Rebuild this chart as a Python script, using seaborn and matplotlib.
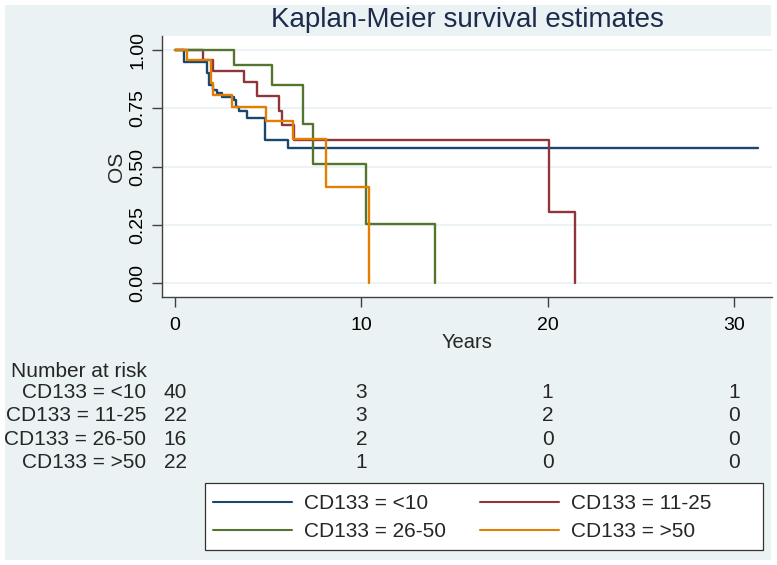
import matplotlib
matplotlib.use("Agg")
import matplotlib.pyplot as plt
from matplotlib.patches import Rectangle
from matplotlib.ticker import FormatStrFormatter
from matplotlib.transforms import blended_transform_factory
import seaborn as sns
import pandas as pd

# groups and colours (Stata s2color)
groups = ["CD133 = <10", "CD133 = 11-25", "CD133 = 26-50", "CD133 = >50"]
colors = ["#1a476f", "#90353b", "#55752f", "#e37e00"]

# Kaplan-Meier step points (time in years, survival)
time_lt10 = [0, 0.48, 1.73, 1.80, 2.05, 2.25, 2.50, 3.15, 3.30, 3.45, 3.84, 4.83, 6.08, 31.3]
surv_lt10 = [1.0, 0.95, 0.90, 0.852, 0.828, 0.814, 0.80, 0.787, 0.757, 0.738, 0.708, 0.616, 0.579, 0.579]

time_11_25 = [0, 1.48, 2.02, 3.72, 4.38, 5.58, 5.72, 6.38, 20.05, 21.48]
surv_11_25 = [1.0, 0.955, 0.909, 0.861, 0.803, 0.738, 0.678, 0.614, 0.307, 0.0]

time_26_50 = [0, 3.18, 5.18, 6.88, 7.42, 10.24, 13.98]
surv_26_50 = [1.0, 0.9375, 0.852, 0.682, 0.512, 0.256, 0.0]

time_gt50 = [0, 0.63, 1.93, 2.05, 3.04, 4.90, 6.33, 8.08, 10.40]
surv_gt50 = [1.0, 0.955, 0.86, 0.806, 0.757, 0.697, 0.617, 0.413, 0.0]

# number at risk table
risk_times = [0, 10, 20, 30]
risk_lt10 = [40, 3, 1, 1]
risk_11_25 = [22, 3, 2, 0]
risk_26_50 = [16, 2, 0, 0]
risk_gt50 = [22, 1, 0, 0]

BG = "#eaf2f3"
W, H = 777, 565

times = [time_lt10, time_11_25, time_26_50, time_gt50]
survs = [surv_lt10, surv_11_25, surv_26_50, surv_gt50]
risks = [risk_lt10, risk_11_25, risk_26_50, risk_gt50]

frames = []
for name, t, s in zip(groups, times, survs):
    frames.append(pd.DataFrame({"Years": t, "OS": s, "group": name}))
df = pd.concat(frames, ignore_index=True)

sns.set_style("ticks")
plt.rcParams["font.family"] = ["Liberation Sans", "DejaVu Sans"]

fig = plt.figure(figsize=(W / 100, H / 100), dpi=100)
fig.add_artist(Rectangle((5 / W, 1 - 560 / H), 766 / W, 555 / H, transform=fig.transFigure,
                         facecolor=BG, edgecolor="none", zorder=-10))

ax = fig.add_axes([162 / W, 1 - 297 / H, 610 / W, 261 / H])
ax.set_facecolor("white")

sns.lineplot(data=df, x="Years", y="OS", hue="group", hue_order=groups, palette=colors,
             drawstyle="steps-post", estimator=None, sort=False, linewidth=1.7, ax=ax)

ax.set_xlim(-0.698, 32.04)
ax.set_ylim(-0.0587, 1.060)
ax.set_xticks(risk_times)
ax.set_yticks([0, 0.25, 0.5, 0.75, 1.0])
ax.yaxis.set_major_formatter(FormatStrFormatter("%.2f"))
ax.grid(axis="y", color=BG, linewidth=1.3)
ax.set_axisbelow(True)
sns.despine(ax=ax)
for sp in ["left", "bottom"]:
    ax.spines[sp].set_color("#404040")
    ax.spines[sp].set_linewidth(1.0)
ax.tick_params(length=7, width=1, color="#404040", labelsize=14, labelcolor="black")
ax.tick_params(axis="x", pad=7.5)
ax.tick_params(axis="y", labelrotation=90, pad=4.3)
for lbl in ax.get_yticklabels():
    lbl.set_va("center")

ax.set_xlabel("Years", fontsize=14.5)
ax.xaxis.set_label_coords(0.5, (297 - 348.3) / 261)
ax.xaxis.label.set_va("baseline")
ax.set_ylabel("OS", fontsize=15)
ax.yaxis.set_label_coords((122 - 162) / 610, 0.5)
ax.yaxis.label.set_va("baseline")

fig.text(467 / W, 1 - 26.7 / H, "Kaplan-Meier survival estimates", ha="center", va="baseline",
         fontsize=20, color="#1d2c4c")

# number at risk table
trans = blended_transform_factory(ax.transData, fig.transFigure)
fig.text(10.7 / W, 1 - 376.7 / H, "Number at risk", ha="left", va="baseline", fontsize=15)
for i, (name, counts) in enumerate(zip(groups, risks)):
    y = 1 - (398 + 23.3 * i) / H
    fig.text(146 / W, y, name, ha="right", va="baseline", fontsize=15)
    for t, n in zip(risk_times, counts):
        ax.text(t, y, str(n), transform=trans, ha="center", va="baseline", fontsize=15, clip_on=False)

# legend (two columns, boxed)
leg = ax.get_legend()
handles = leg.legend_handles
labels = [t.get_text() for t in leg.texts]
leg.remove()
order = [0, 2, 1, 3]
for h in handles:
    h.set_linewidth(1.5)
fig.add_artist(Rectangle((205 / W, 1 - 550 / H), 558 / W, 67 / H, transform=fig.transFigure,
                         facecolor="white", edgecolor="#333333", linewidth=0.9, zorder=1))
fig.legend([handles[i] for i in order], [labels[i] for i in order], ncol=2, loc="upper left",
           bbox_to_anchor=(213 / W, 1 - 494.4 / H), frameon=False, borderpad=0, borderaxespad=0,
           handlelength=3.79, handletextpad=0.58, columnspacing=1.64, labelspacing=0.41,
           fontsize=15)

fig.savefig("out.png", dpi=100, facecolor="white")
